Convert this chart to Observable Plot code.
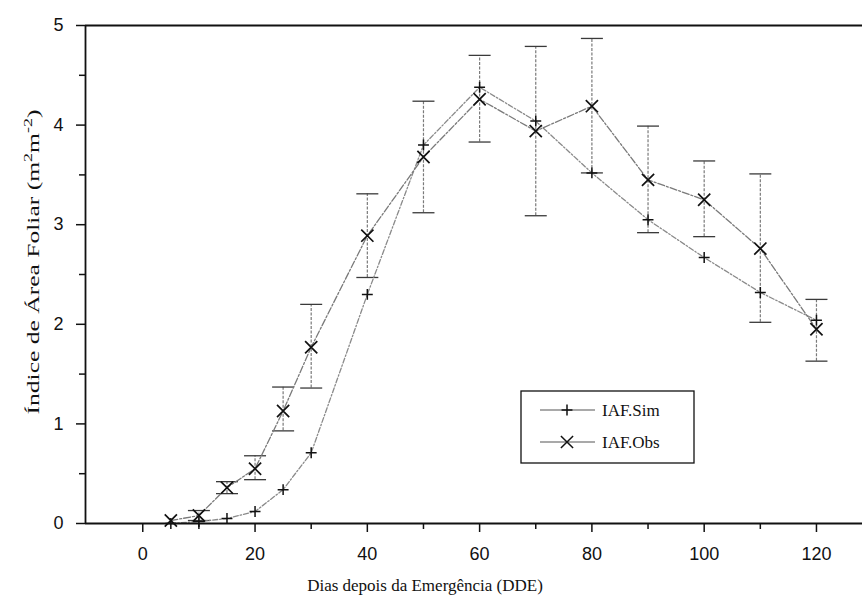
<!DOCTYPE html>
<html><head><meta charset="utf-8">
<script src="https://cdn.jsdelivr.net/npm/d3@7"></script>
<script src="https://cdn.jsdelivr.net/npm/@observablehq/plot@0.6"></script>
<style>
body{margin:0;background:#fff}
#chart{position:relative;width:862px;height:599px;overflow:hidden}
</style>
</head><body><div id="chart"></div>
<script>
// ---- data ----
const days    = [5, 10, 15, 20, 25, 30, 40, 50, 60, 70, 80, 90, 100, 110, 120];
const iafSim  = [0.00, 0.02, 0.05, 0.12, 0.34, 0.71, 2.30, 3.80, 4.38, 4.04, 3.52, 3.05, 2.67, 2.32, 2.04];
const iafObs  = [0.03, 0.08, 0.36, 0.55, 1.13, 1.77, 2.89, 3.68, 4.26, 3.94, 4.19, 3.45, 3.25, 2.76, 1.95];
const obsLow  = [null, 0.03, 0.30, 0.44, 0.93, 1.36, 2.47, 3.12, 3.83, 3.09, 3.52, 2.92, 2.88, 2.02, 1.63];
const obsHigh = [null, 0.13, 0.42, 0.68, 1.37, 2.20, 3.31, 4.24, 4.70, 4.79, 4.87, 3.99, 3.64, 3.51, 2.25];
const seriesNames = ["IAF.Sim", "IAF.Obs"];
const yMajor = [0, 1, 2, 3, 4, 5];
const yMinor = [0.5, 1.5, 2.5, 3.5, 4.5];
const xMajor = [0, 20, 40, 60, 80, 100, 120];
const xMinor = [10, 30, 50, 70, 90, 110];
const xTitle = "Dias depois da Emergência (DDE)";

const simRows = days.map((d, i) => ({day: d, v: iafSim[i]}));
const obsRows = days.map((d, i) => ({day: d, v: iafObs[i], lo: obsLow[i], hi: obsHigh[i]}));
const errRows = obsRows.filter(r => r.lo != null);

const xMin = -10.2, xMax = 128.2;
const hline = {draw(ctx, size) { const r = Math.sqrt(size / Math.PI); ctx.moveTo(-r, 0); ctx.lineTo(r, 0); }};
const sans = "'Liberation Sans', Arial, sans-serif";
const serif = "'Liberation Serif', 'Times New Roman', serif";

const svg = Plot.plot({
  width: 862, height: 599,
  marginLeft: 85, marginRight: 0, marginTop: 25, marginBottom: 76,
  x: {domain: [xMin, xMax]},
  y: {domain: [0, 5]},
  style: {background: "#fff", fontFamily: sans, fontSize: "18px", color: "#111"},
  marks: [
    // error bars
    Plot.ruleX(errRows, {x: "day", y1: "lo", y2: "hi", stroke: "#7a7a7a", strokeWidth: 1.2, strokeDasharray: "3,1.5"}),
    Plot.dot(errRows, {x: "day", y: "lo", symbol: hline, r: 11, stroke: "#3a3a3a", strokeWidth: 1.3}),
    Plot.dot(errRows, {x: "day", y: "hi", symbol: hline, r: 11, stroke: "#3a3a3a", strokeWidth: 1.3}),
    // lines
    Plot.line(simRows, {x: "day", y: "v", stroke: "#8a8a8a", strokeWidth: 1.3, strokeDasharray: "5,2,1.5,2"}),
    Plot.line(obsRows, {x: "day", y: "v", stroke: "#7a7a7a", strokeWidth: 1.3, strokeDasharray: "7,2,2,2"}),
    // markers
    Plot.dot(simRows, {x: "day", y: "v", symbol: "plus", r: 3.6, stroke: "#111", strokeWidth: 1.5}),
    Plot.dot(obsRows, {x: "day", y: "v", symbol: "times", r: 5.6, stroke: "#111", strokeWidth: 1.7}),
    // frame
    Plot.ruleY([0, 5], {stroke: "#111", strokeWidth: 1.8}),
    Plot.ruleX([xMin], {stroke: "#111", strokeWidth: 1.8}),
    // axes
    Plot.axisY(yMajor, {tickSize: 9, tickPadding: 13, tickFormat: d => String(d), fontSize: 18, fontFamily: sans, stroke: "#111", strokeWidth: 1.5, label: null}),
    Plot.axisY(yMinor, {tickSize: 6, tickFormat: () => "", stroke: "#111", strokeWidth: 1.5, label: null}),
    Plot.axisX(xMajor, {tickSize: 9, tickPadding: 15, tickFormat: d => String(d), fontSize: 18, fontFamily: sans, stroke: "#111", strokeWidth: 1.5, label: null}),
    Plot.axisX(xMinor, {tickSize: 6, tickFormat: () => "", stroke: "#111", strokeWidth: 1.5, label: null})
  ]
});

const s = d3.select(svg);
s.selectAll("g[aria-label$='tick label']").attr("font-size", 18).attr("font-family", sans).attr("fill", "#111");

// x title
s.append("text").attr("x", 425).attr("y", 591).attr("text-anchor", "middle")
  .attr("font-family", serif).attr("font-size", 17).attr("fill", "#111").text(xTitle);
// y title with superscripts
const yt = s.append("text").attr("transform", "translate(39,262) rotate(-90)")
  .attr("text-anchor", "middle").attr("font-family", serif).attr("font-size", 17).attr("fill", "#111")
  .attr("textLength", 305).attr("lengthAdjust", "spacingAndGlyphs");
yt.append("tspan").text("Índice de Área Foliar (m");
yt.append("tspan").attr("font-size", 12).attr("dy", -7).text("2");
yt.append("tspan").attr("dy", 7).text("m");
yt.append("tspan").attr("font-size", 12).attr("dy", -7).text("-2");
yt.append("tspan").attr("dy", 7).text(")");

// legend
const lg = s.append("g").attr("text-anchor", "start");
lg.append("rect").attr("x", 521).attr("y", 391).attr("width", 173).attr("height", 72)
  .attr("fill", "#fff").attr("stroke", "#111").attr("stroke-width", 1.3);
const sym = [d3.symbolPlus, d3.symbolTimes];
const symSize = [3.6 * 3.6 * Math.PI, 5.6 * 5.6 * Math.PI];
seriesNames.forEach((name, i) => {
  const y = 410 + i * 32;
  lg.append("line").attr("x1", 540).attr("x2", 595).attr("y1", y).attr("y2", y)
    .attr("stroke", "#555").attr("stroke-width", 1.2);
  lg.append("path").attr("transform", `translate(567,${y})`)
    .attr("d", d3.symbol(sym[i], symSize[i])()).attr("fill", "none").attr("stroke", "#111").attr("stroke-width", 1.5);
  lg.append("text").attr("x", 602).attr("y", y + 6).attr("text-anchor", "start").attr("font-family", serif).attr("font-size", 17)
    .attr("fill", "#111").text(name);
});

document.getElementById("chart").appendChild(svg);
</script>
</body></html>
